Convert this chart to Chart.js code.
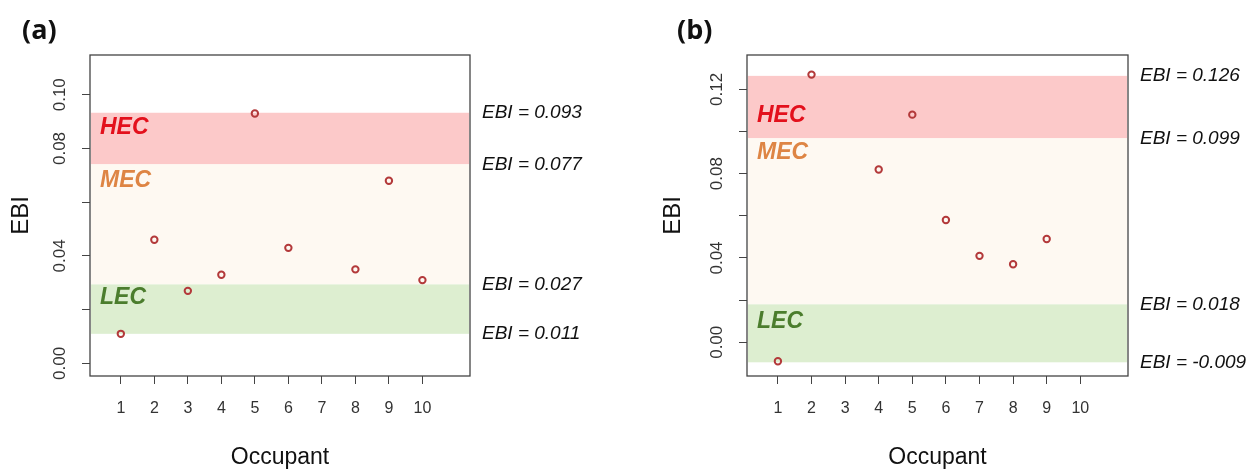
<!DOCTYPE html>
<html>
<head>
<meta charset="utf-8">
<script src="https://cdn.jsdelivr.net/npm/chart.js@4.4.1/dist/chart.umd.min.js"></script>
<style>
  html, body { margin: 0; padding: 0; background: #fff; }
  #wrap { position: relative; width: 1254px; height: 469px; overflow: hidden; }
  .panel { position: absolute; top: 0; width: 627px; height: 469px; }
  .tag { position: absolute; top: 13px; font: bold 27px 'Open Sans', sans-serif; line-height: 1.2; color: #111; }
</style>
</head>
<body>
<div id="wrap">
  <div class="panel" style="left:0"><canvas id="chartA" width="627" height="469"></canvas></div>
  <div class="panel" style="left:627px"><canvas id="chartB" width="627" height="469"></canvas></div>
  <div class="tag" style="left:22px">(a)</div>
  <div class="tag" style="left:677px">(b)</div>
</div>
<script>
// -- Data --
const occupantTicks = [1, 2, 3, 4, 5, 6, 7, 8, 9, 10];
const occupantTickLabels = ['1', '2', '3', '4', '5', '6', '7', '8', '9', '10'];
const occupantRange = [0.08, 11.42];

const zoneNames = ['HEC', 'MEC', 'LEC'];

// panel (a)
const occupantsA = [1, 2, 3, 4, 5, 6, 8, 9, 10];
const ebiA = [0.011, 0.046, 0.027, 0.033, 0.093, 0.043, 0.035, 0.068, 0.031];
const yRangeA = [-0.0047, 0.1148];
const yTicksA = [0, 0.02, 0.04, 0.06, 0.08, 0.10];
const yTickLabelsA = ['0.00', '', '0.04', '', '0.08', '0.10'];
const zoneEdgesA = [0.0933, 0.0741, 0.0294, 0.011];
const edgeLabelsA = ['EBI = 0.093', 'EBI = 0.077', 'EBI = 0.027', 'EBI = 0.011'];
const zoneLabelAtA = [0.0877, 0.0681, 0.0246];

// panel (b)
const occupantsB = [1, 2, 4, 5, 6, 7, 8, 9];
const ebiB = [-0.009, 0.127, 0.082, 0.108, 0.058, 0.041, 0.037, 0.049];
const yRangeB = [-0.016, 0.1363];
const yTicksB = [0, 0.02, 0.04, 0.06, 0.08, 0.10, 0.12];
const yTickLabelsB = ['0.00', '', '0.04', '', '0.08', '', '0.12'];
const zoneEdgesB = [0.1264, 0.0968, 0.018, -0.0095];
const edgeLabelsB = ['EBI = 0.126', 'EBI = 0.099', 'EBI = 0.018', 'EBI = -0.009'];
const zoneLabelAtB = [0.1075, 0.090, 0.0096];

// -- Styles --
const FONT = "'Liberation Sans', Arial, sans-serif";
const zoneFills = ['#fcc9c9', '#fef9f2', '#ddeed0'];
const zoneTextColors = ['#e3101c', '#de8544', '#4b7d2d'];

Chart.defaults.font.family = FONT;

function makePanel(canvasId, occupants, ebi, yRange, yTicks, yTickLabels, edges, edgeLabels, labelAt, box) {
    // coloured zones, zone names, frame and the EBI edge labels on the right
    const zonesPlugin = {
        id: 'zones',
        beforeDatasetsDraw(chart) {
            const { ctx, chartArea: a, scales: { y } } = chart;
            ctx.save();
            for (let i = 0; i < zoneNames.length; i++) {
                const top = y.getPixelForValue(edges[i]);
                const bot = y.getPixelForValue(edges[i + 1]);
                ctx.fillStyle = zoneFills[i];
                ctx.fillRect(a.left + 1, top, a.right - a.left - 2, bot - top);
            }
            ctx.font = 'italic bold 23px ' + FONT;
            ctx.textBaseline = 'middle';
            ctx.textAlign = 'left';
            for (let i = 0; i < zoneNames.length; i++) {
                ctx.fillStyle = zoneTextColors[i];
                ctx.fillText(zoneNames[i], a.left + 10, y.getPixelForValue(labelAt[i]));
            }
            ctx.restore();
        },
        afterDraw(chart) {
            const { ctx, chartArea: a, scales: { y } } = chart;
            ctx.save();
            ctx.strokeStyle = '#444';
            ctx.lineWidth = 1.3;
            ctx.strokeRect(a.left, a.top, a.right - a.left, a.bottom - a.top);
            ctx.font = 'italic 19px ' + FONT;
            ctx.fillStyle = '#111';
            ctx.textBaseline = 'middle';
            ctx.textAlign = 'left';
            edges.forEach((v, i) => {
                ctx.fillText(edgeLabels[i], a.right + 12, y.getPixelForValue(v));
            });
            ctx.restore();
        }
    };

    return new Chart(document.getElementById(canvasId), {
        type: 'scatter',
        data: {
            datasets: [{
                data: occupants.map((o, i) => ({ x: o, y: ebi[i] })),
                pointStyle: 'circle',
                pointRadius: 3.2,
                borderWidth: 2,
                borderColor: '#b3393a',
                backgroundColor: 'rgba(0,0,0,0)'
            }]
        },
        options: {
            responsive: false,
            animation: false,
            events: [],
            layout: { padding: { left: 0, top: 55, right: box.right, bottom: 0 } },
            plugins: { legend: { display: false }, tooltip: { enabled: false } },
            scales: {
                x: {
                    type: 'linear',
                    min: occupantRange[0],
                    max: occupantRange[1],
                    afterBuildTicks: s => { s.ticks = occupantTicks.map(v => ({ value: v })); },
                    afterFit: s => { s.height = 93; },
                    border: { display: false },
                    grid: { drawOnChartArea: false, drawTicks: true, tickLength: 8, color: '#444' },
                    ticks: {
                        autoSkip: false, maxRotation: 0, padding: 15,
                        color: '#333', font: { size: 16 },
                        callback: (v, i) => occupantTickLabels[i]
                    },
                    title: {
                        display: true, text: 'Occupant', color: '#111',
                        font: { size: 23, lineHeight: 1 }, padding: { top: 0, bottom: 0 }
                    }
                },
                y: {
                    type: 'linear',
                    min: yRange[0],
                    max: yRange[1],
                    afterBuildTicks: s => { s.ticks = yTicks.map(v => ({ value: v })); },
                    afterFit: s => { s.width = box.left; },
                    border: { display: false },
                    grid: { drawOnChartArea: false, drawTicks: true, tickLength: 8, color: '#444' },
                    ticks: {
                        autoSkip: false, minRotation: 90, maxRotation: 90, crossAlign: 'center',
                        padding: 5, color: '#333', font: { size: 17 },
                        callback: (v, i) => yTickLabels[i]
                    },
                    title: {
                        display: true, text: 'EBI', color: '#111',
                        font: { size: 24, lineHeight: 1 }, padding: { top: box.titleGap, bottom: 0 }
                    }
                }
            }
        },
        plugins: [zonesPlugin]
    });
}

makePanel('chartA', occupantsA, ebiA, yRangeA, yTicksA, yTickLabelsA, zoneEdgesA, edgeLabelsA, zoneLabelAtA,
    { left: 90, right: 157, titleGap: 9 });
makePanel('chartB', occupantsB, ebiB, yRangeB, yTicksB, yTickLabelsB, zoneEdgesB, edgeLabelsB, zoneLabelAtB,
    { left: 120, right: 126, titleGap: 34 });
</script>
</body>
</html>
